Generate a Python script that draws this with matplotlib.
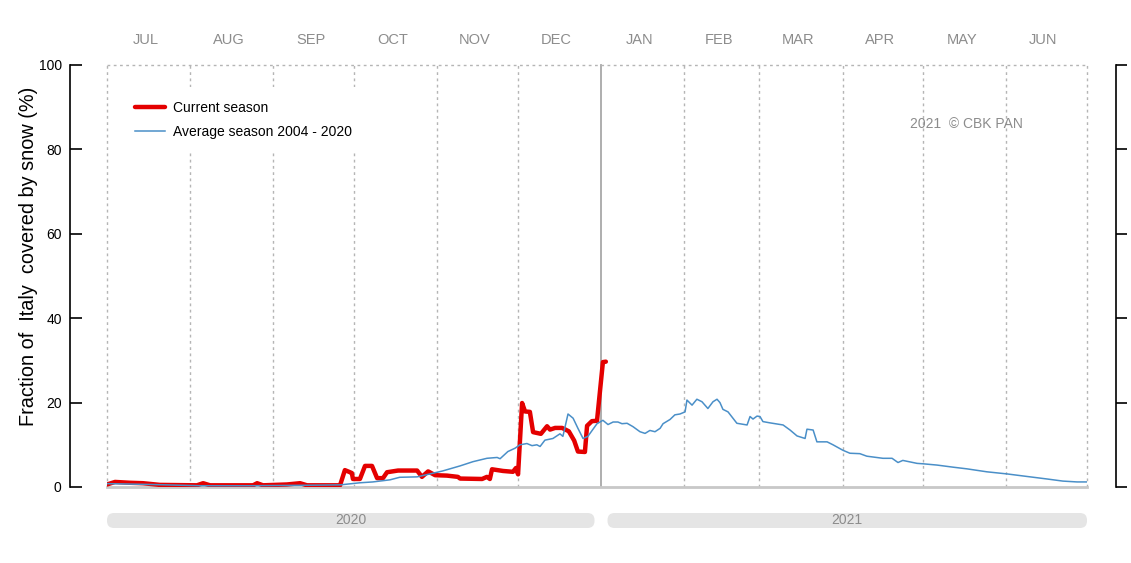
import matplotlib
matplotlib.use('Agg')
import matplotlib.pyplot as plt
from matplotlib.patches import FancyBboxPatch
from matplotlib.transforms import blended_transform_factory

plt.rcParams['font.family'] = ['Liberation Sans', 'DejaVu Sans']

# ---- data (day 0 = 1 July 2020) ----
cur_day = [0, 3, 8.6, 13.4, 19.7, 33.5, 35.8, 38.4, 54.4, 55.9, 58.1, 67, 71.9, 74.5,
           86.8, 88.6, 90.5, 91.2, 91.6, 94.2, 96.1, 98.7, 100.6, 102.8, 104.3, 108.4,
           115.5, 117.3, 119.6, 122.2, 126.6, 130.7, 131.5, 139.7, 141.5, 142.6, 143.4,
           147.5, 151.2, 152.3, 153.1, 154.6, 155.7, 157.5, 158.7, 161.6, 163.9, 165,
           166.9, 169.5, 172, 174, 175.4, 178, 178.8, 180.6, 182.5, 184.7, 185.8]
cur_val = [0.6, 1.2, 1.0, 0.9, 0.5, 0.4, 0.9, 0.4, 0.4, 0.9, 0.4, 0.6, 0.9, 0.4,
           0.4, 4.0, 3.5, 3.3, 1.9, 1.9, 5.0, 5.0, 2.1, 2.1, 3.5, 3.9,
           3.9, 2.4, 3.7, 2.8, 2.7, 2.4, 2.0, 1.9, 2.4, 1.9, 4.2,
           3.8, 3.6, 4.5, 3.0, 19.9, 17.9, 17.8, 13.0, 12.6, 14.4, 13.6,
           14.0, 14.0, 13.2, 11.0, 8.4, 8.3, 14.5, 15.6, 15.7, 29.6, 29.7]

avg_day = [0, 16, 34.6, 53, 72, 86.8, 94.2, 99, 105.4, 109, 115.5, 120.3, 125, 131.5,
           136.3, 141.5, 145.3, 146.4, 149.3, 152, 153.8, 156.4, 158.3, 160.1, 161.3,
           163.1, 166.1, 168.7, 169.8, 171.7, 173.6, 175.4, 177.3, 179.1, 182.5, 184.7,
           186.6, 188.5, 190.3, 191.8, 193.7, 195.9, 198.5, 200.4, 202.2, 204.1, 206,
           207.1, 209.7, 211.5, 213.4, 215.3, 216, 217.9, 219.7, 221.6, 223.8, 225.7,
           227.2, 228.3, 229.4, 231.3, 234.6, 238.4, 239.5, 240.6, 242.1, 243.2, 244.3,
           246.9, 251.8, 254.4, 257, 260, 260.7, 263, 264.4, 268.2, 270.4, 274.1, 276.7,
           280.4, 283, 289, 292.4, 294.6, 296.4, 301.7, 303.9, 309.1, 315.1, 320.3,
           327.7, 335.2, 342.6, 350.1, 356, 361.3, 365]
avg_val = [0.8, 0.6, 0.3, 0.3, 0.4, 0.5, 1.0, 1.2, 1.7, 2.3, 2.4, 3.1, 3.8, 5.0,
           6.0, 6.8, 7.0, 6.7, 8.4, 9.2, 10.0, 10.3, 9.8, 10.0, 9.6,
           11.1, 11.5, 12.6, 12.0, 17.3, 16.3, 13.9, 11.5, 12.0, 15.0, 15.8,
           14.8, 15.4, 15.4, 15.0, 15.1, 14.3, 13.1, 12.7, 13.4, 13.1, 13.9,
           15.0, 16.0, 17.1, 17.3, 17.8, 20.6, 19.4, 20.8, 20.2, 18.6, 20.2,
           20.8, 20.0, 18.4, 17.8, 15.1, 14.7, 16.7, 16.1, 16.8, 16.7, 15.5,
           15.2, 14.7, 13.5, 12.1, 11.5, 13.7, 13.5, 10.7, 10.7, 10.0, 8.7, 8.0,
           7.9, 7.3, 6.8, 6.8, 5.8, 6.3, 5.6, 5.5, 5.2, 4.7, 4.3,
           3.6, 3.1, 2.5, 1.9, 1.4, 1.2, 1.2]

month_labels = ['JUL', 'AUG', 'SEP', 'OCT', 'NOV', 'DEC',
                'JAN', 'FEB', 'MAR', 'APR', 'MAY', 'JUN']
month_starts = [0, 31, 62, 92, 123, 153, 184, 215, 243, 274, 304, 335, 365]
year_labels = ['2020', '2021']
year_start_day = 184
y_ticks = [0, 20, 40, 60, 80, 100]

W, H = 1131, 563
fig = plt.figure(figsize=(W / 100, H / 100), dpi=100)
ax = fig.add_axes([107 / W, 1 - 487 / H, 980 / W, 422 / H])
ax.set_xlim(0, 365)
ax.set_ylim(0, 100)

grid_c = '#b5b5b5'
for d in month_starts:
    if d == year_start_day:
        ax.axvline(d, color='#a8a8a8', lw=1.3, zorder=1, clip_on=False)
    else:
        ax.axvline(d, color=grid_c, lw=1.0, ls=(0, (2, 2.5)), zorder=1, clip_on=False)
ax.axhline(100, color=grid_c, lw=1.0, ls=(0, (2, 2.5)), zorder=1, clip_on=False)
ax.axhline(0, color='#c8c8c8', lw=2.0, zorder=1, clip_on=False)

ax.plot(cur_day, cur_val, color='#e40000', lw=3.2, solid_joinstyle='round',
        solid_capstyle='round', label='Current season', zorder=3)
ax.plot(avg_day, avg_val, color='#4a8fc8', lw=1.1, label='Average season 2004 - 2020',
        zorder=4)

# spines
for s in ['top', 'bottom', 'right']:
    ax.spines[s].set_visible(False)
ax.spines['left'].set_position(('outward', 37 * 0.72))
ax.spines['left'].set_linewidth(1.2)
ax.set_xticks([])
ax.set_yticks(y_ticks)
ax.tick_params(axis='y', direction='in', length=8.5, width=1.2, labelsize=10, pad=6)

ax2 = ax.twinx()
ax2.set_ylim(0, 100)
for s in ['top', 'bottom', 'left']:
    ax2.spines[s].set_visible(False)
ax2.spines['right'].set_position(('outward', 29 * 0.72))
ax2.spines['right'].set_linewidth(1.2)
ax2.set_yticks(y_ticks)
ax2.tick_params(axis='y', direction='out', length=8, width=1.2, labelright=False)
ax2.set_xticks([])

ax.set_ylabel('Fraction of  Italy  covered by snow (%)', fontsize=14.3)
ax.yaxis.set_label_coords((38 - 107) / 980, (487 - 256) / 422)

# month labels on top
bt = blended_transform_factory(ax.transData, ax.transAxes)
for i, lab in enumerate(month_labels):
    mid = (month_starts[i] + month_starts[i + 1]) / 2 - 1.2
    ax.text(mid, (487 - 39.5) / 422, lab, transform=bt, ha='center', va='center',
            color='#8c8c8c', fontsize=10.5)

leg = ax.legend(loc='upper left', bbox_to_anchor=((121 - 107) / 980, (487 - 87) / 422),
                fontsize=10, frameon=True, fancybox=False, facecolor='white',
                edgecolor='none', framealpha=1, handlelength=2.15, handletextpad=0.6,
                labelspacing=0.75, borderpad=1.0, borderaxespad=0)
leg.set_zorder(5)

ax.text((1023 - 107) / 980, (487 - 124) / 422, '2021  \u00a9 CBK PAN', transform=ax.transAxes,
        ha='right', va='center', color='#8c8c8c', fontsize=10)

# year bars below
fig.canvas.draw()
ov = fig.add_axes([0, 0, 1, 1])
ov.set_xlim(0, W)
ov.set_ylim(0, H)
ov.axis('off')
px = lambda d: ax.transData.transform((d, 0))[0]
spans = [(px(month_starts[0]), px(year_start_day) - 6.5),
         (px(year_start_day) + 6.5, px(month_starts[-1]))]
for (x0, x1), lab in zip(spans, year_labels):
    ov.add_patch(FancyBboxPatch((x0, H - 528), x1 - x0, 15,
                                boxstyle='round,pad=0,rounding_size=7',
                                fc='#e5e5e5', ec='none'))
    ov.text((x0 + x1) / 2, H - 520.5, lab, ha='center', va='center',
            color='#8c8c8c', fontsize=10)

fig.savefig('out.png', dpi=100)
